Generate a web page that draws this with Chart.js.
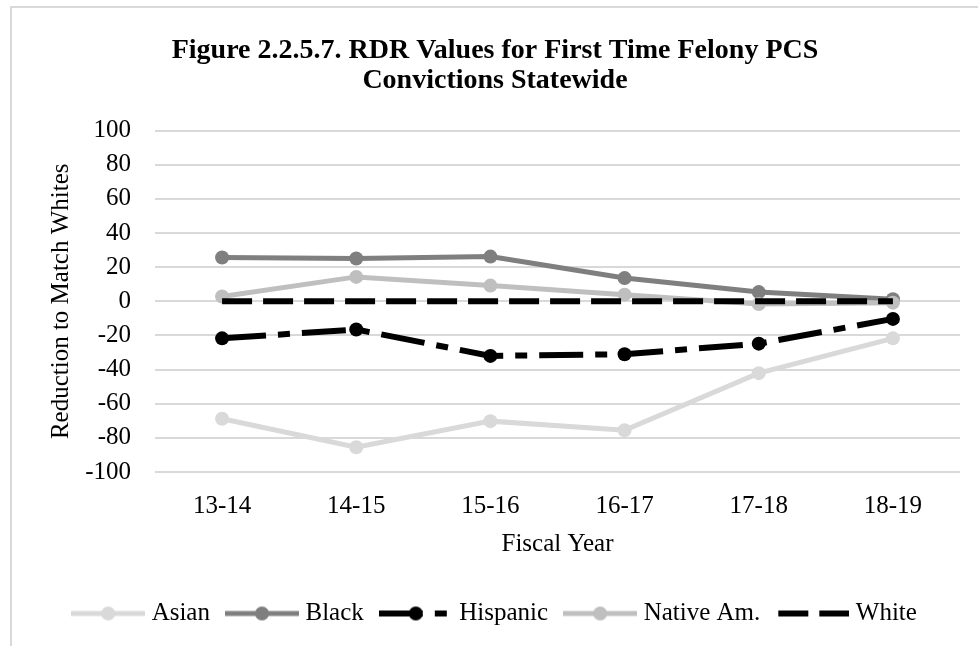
<!DOCTYPE html>
<html>
<head>
<meta charset="utf-8">
<script src="https://cdn.jsdelivr.net/npm/chart.js@4.4.0/dist/chart.umd.min.js"></script>
<style>
  html, body { margin: 0; padding: 0; background: #fff; }
  #wrap { position: relative; width: 978px; height: 646px; overflow: hidden; }
  #frame { position: absolute; left: 10px; top: 6px; width: 1100px; height: 800px;
           border-left: 2px solid #d9d9d9; border-top: 2px solid #d9d9d9; }
  canvas { position: absolute; left: 0; top: 0; }
</style>
</head>
<body>
<div id="wrap">
  <div id="frame"></div>
  <canvas id="chart" width="978" height="646"></canvas>
</div>
<script>
// values
const years = ["13-14", "14-15", "15-16", "16-17", "17-18", "18-19"];
const asian = [-68.8, -85.5, -70.2, -75.5, -42.1, -21.7];
const black = [25.7, 25.1, 26.2, 13.6, 5.4, 1.2];
const hispanic = [-21.7, -16.5, -32, -31, -24.8, -10.3];
const nativeAm = [2.8, 14.3, 9.2, 3.9, -1.6, -0.8];
const white = [0, 0, 0, 0, 0, 0];

const serif = "'Liberation Serif', 'Times New Roman', serif";
const labelFont = { family: serif, size: 25, lineHeight: 1.2 };

// little line + marker pictures for the legend
function legendIcon(color, width, dash, dot) {
  const c = document.createElement("canvas");
  c.width = 74;
  c.height = 16;
  const ctx = c.getContext("2d");
  ctx.strokeStyle = color;
  ctx.lineWidth = width;
  ctx.setLineDash(dash);
  ctx.beginPath();
  ctx.moveTo(dot ? 0 : 3, 8);
  ctx.lineTo(74, 8);
  ctx.stroke();
  if (dot) {
    ctx.fillStyle = color;
    ctx.beginPath();
    ctx.arc(37, 8, 7, 0, Math.PI * 2);
    ctx.fill();
  }
  return c;
}

const series = [
  { label: "Asian", data: asian, color: "#d9d9d9", width: 5, dash: [], dot: true, order: 4 },
  { label: "Black", data: black, color: "#7f7f7f", width: 5, dash: [], dot: true, order: 3 },
  { label: "Hispanic", data: hispanic, color: "#000000", width: 6, dash: [44, 12, 12, 12], dot: true, order: 2 },
  { label: "Native Am.", data: nativeAm, color: "#bfbfbf", width: 5, dash: [], dot: true, order: 1 },
  { label: "White", data: white, color: "#000000", width: 6, dash: [30, 11], dot: false, order: 0 }
];

const icons = series.map(s => legendIcon(s.color, s.width, s.dash, s.dot));

const legendShift = {
  id: "legendShift",
  afterLayout(chart) {
    chart.legend.left += 2;
    chart.legend.right += 2;
  }
};

new Chart(document.getElementById("chart"), {
  type: "line",
  data: {
    labels: years,
    datasets: series.map(s => ({
      label: s.label,
      data: s.data,
      order: s.order,
      borderColor: s.color,
      backgroundColor: s.color,
      borderWidth: s.width,
      borderDash: s.dash,
      pointRadius: s.dot ? 7 : 0,
      pointHoverRadius: s.dot ? 7 : 0,
      pointBorderWidth: 0,
      tension: 0,
      fill: false
    }))
  },
  options: {
    responsive: false,
    animation: false,
    devicePixelRatio: 1,
    layout: { padding: { left: 30, right: 18, top: 0, bottom: 10 } },
    plugins: {
      tooltip: { enabled: false },
      title: {
        display: true,
        text: ["Figure 2.2.5.7. RDR Values for First Time Felony PCS", "Convictions Statewide"],
        color: "#000",
        font: { family: serif, size: 28, weight: "bold", lineHeight: 1.1 },
        padding: { top: 35, bottom: 34 }
      },
      legend: {
        position: "bottom",
        labels: {
          usePointStyle: true,
          pointStyleWidth: 62,
          padding: 21,
          color: "#000",
          font: labelFont,
          sort: (a, b) => a.datasetIndex - b.datasetIndex,
          generateLabels(chart) {
            const items = Chart.defaults.plugins.legend.labels.generateLabels(chart);
            items.forEach(it => { it.pointStyle = icons[it.datasetIndex]; });
            return items;
          }
        }
      }
    },
    scales: {
      x: {
        offset: true,
        grid: { display: false },
        border: { display: false },
        ticks: { color: "#000", font: labelFont, padding: 11, maxRotation: 0 },
        title: { display: true, text: "Fiscal Year", color: "#000", font: labelFont, padding: { top: 0, bottom: 21 } },
        afterFit(s) { s.height = 108; }
      },
      y: {
        min: -100,
        max: 100,
        ticks: { stepSize: 20, padding: 24, color: "#000", font: labelFont },
        grid: { color: "#d9d9d9", lineWidth: 2, drawTicks: false },
        border: { display: false },
        title: { display: true, text: "Reduction to Match Whites", color: "#000", font: labelFont, padding: { top: 16, bottom: 0 } },
        afterFit(s) { s.width = 125; }
      }
    }
  },
  plugins: [legendShift]
});
</script>
</body>
</html>
